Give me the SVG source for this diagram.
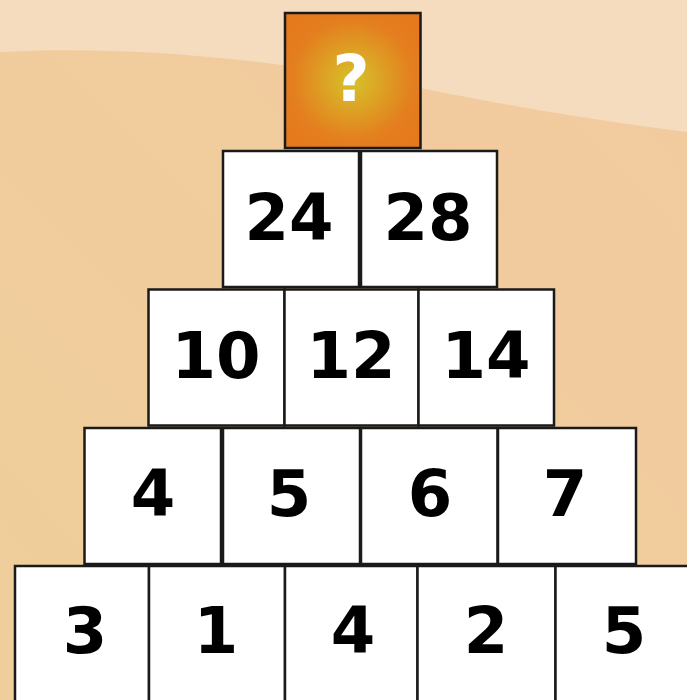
<svg xmlns="http://www.w3.org/2000/svg" width="687" height="700" viewBox="0 0 687 700">
  <defs>
    <radialGradient id="qg" cx="0.5" cy="0.5" r="0.6">
      <stop offset="0" stop-color="#D6C22A"/>
      <stop offset="0.75" stop-color="#E47E1E"/>
      <stop offset="1" stop-color="#E47A1C"/>
    </radialGradient>
    <linearGradient id="bg" x1="0" y1="1" x2="1" y2="0">
      <stop offset="0" stop-color="#EFCE9B"/>
      <stop offset="1" stop-color="#F2CA9E"/>
    </linearGradient>
    <style>
      .cell { fill: #ffffff; stroke: #1a1a1a; stroke-width: 2.5; }
      .num { font-family: "DejaVu Sans", "Liberation Sans", sans-serif; font-weight: bold; font-size: 64px; fill: #000000; text-anchor: middle; }
      .q { font-family: "DejaVu Sans", "Liberation Sans", sans-serif; font-weight: bold; font-size: 64px; fill: #ffffff; text-anchor: middle; }
    </style>
  </defs>
  <rect x="0" y="0" width="687" height="700" fill="url(#bg)"/>
  <path d="M0,52 C120,46 260,56 420,88 C530,110 610,122 687,132 L687,0 L0,0 Z" fill="#F5DCBE"/>

  <g id="top">
    <rect x="285" y="13" width="135.5" height="135" fill="url(#qg)" stroke="#1a1a1a" stroke-width="2.5"/>
    <text class="q" x="351" y="101">?</text>
  </g>

  <g id="n24"><rect class="cell" x="223" y="151" width="136" height="136"/><text class="num" x="289" y="240">24</text></g>
  <g id="n28"><rect class="cell" x="361" y="151" width="136" height="136"/><text class="num" x="428" y="240">28</text></g>

  <g id="n10"><rect class="cell" x="148.5" y="289.5" width="136" height="136"/><text class="num" x="216" y="378">10</text></g>
  <g id="n12"><rect class="cell" x="284.5" y="289.5" width="134" height="136"/><text class="num" x="351" y="378">12</text></g>
  <g id="n14"><rect class="cell" x="418.5" y="289.5" width="135.5" height="136"/><text class="num" x="486" y="378">14</text></g>

  <g id="n4a"><rect class="cell" x="84.5" y="428" width="136.5" height="136"/><text class="num" x="153" y="516">4</text></g>
  <g id="n5a"><rect class="cell" x="223" y="428" width="137" height="136"/><text class="num" x="289" y="516">5</text></g>
  <g id="n6"><rect class="cell" x="361" y="428" width="136.5" height="136"/><text class="num" x="430" y="516">6</text></g>
  <g id="n7"><rect class="cell" x="498" y="428" width="138" height="136"/><text class="num" x="565" y="516">7</text></g>

  <g id="n3"><rect class="cell" x="15" y="566" width="134" height="140"/><text class="num" x="85" y="653">3</text></g>
  <g id="n1"><rect class="cell" x="149" y="566" width="136" height="140"/><text class="num" x="216" y="653">1</text></g>
  <g id="n4b"><rect class="cell" x="285" y="566" width="132.5" height="140"/><text class="num" x="353" y="653">4</text></g>
  <g id="n2"><rect class="cell" x="417.5" y="566" width="138" height="140"/><text class="num" x="486" y="653">2</text></g>
  <g id="n5b"><rect class="cell" x="555.5" y="566" width="140" height="140"/><text class="num" x="624" y="653">5</text></g>
</svg>
